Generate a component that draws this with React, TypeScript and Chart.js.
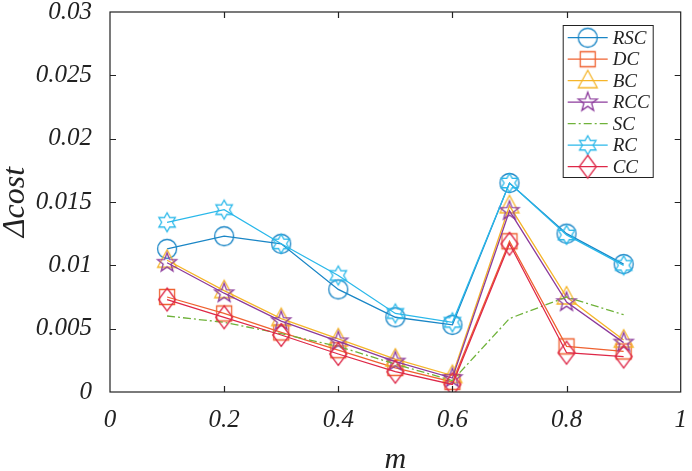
import React, { useEffect, useRef } from 'react';
import { Chart, registerables } from 'chart.js';

Chart.register(...registerables);

// ---- data ----
const mValues = [0.1, 0.2, 0.3, 0.4, 0.5, 0.6, 0.7, 0.8, 0.9];
const RSC = [0.0113, 0.0123, 0.0117, 0.0081, 0.0059, 0.0053, 0.0165, 0.0125, 0.0101];
const DC = [0.0075, 0.0062, 0.0047, 0.0033, 0.0019, 0.0008, 0.0119, 0.0036, 0.0032];
const BC = [0.0104, 0.008, 0.0058, 0.0042, 0.0026, 0.0013, 0.0147, 0.0075, 0.0041];
const RCC = [0.0102, 0.0078, 0.0056, 0.004, 0.0024, 0.0011, 0.0143, 0.0071, 0.0039];
const SC = [0.006, 0.0055, 0.0046, 0.0036, 0.0022, 0.0009, 0.0058, 0.0075, 0.0061];
const RC = [0.0134, 0.0144, 0.0117, 0.0092, 0.0062, 0.0055, 0.0165, 0.0124, 0.01];
const CC = [0.0073, 0.0059, 0.0045, 0.003, 0.0016, 0.0006, 0.0117, 0.0031, 0.0028];

const seriesNames = ['RSC', 'DC', 'BC', 'RCC', 'SC', 'RC', 'CC'];
const xTickLabels = ['0', '0.2', '0.4', '0.6', '0.8', '1'];
const yTickLabels = ['0', '0.005', '0.01', '0.015', '0.02', '0.025', '0.03'];
const xTitle = 'm';
const yTitle = '\u0394cost';

const FONT = '"Liberation Serif", "Times New Roman", serif';

function starPath(ctx: CanvasRenderingContext2D, n: number, ro: number, ri: number) {
  for (let i = 0; i < 2 * n; i++) {
    const a = -Math.PI / 2 + (i * Math.PI) / n;
    const r = i % 2 === 0 ? ro : ri;
    const px = Math.cos(a) * r;
    const py = Math.sin(a) * r;
    if (i === 0) ctx.moveTo(px, py);
    else ctx.lineTo(px, py);
  }
  ctx.closePath();
}

function makeMarker(shape: string, color: string): HTMLCanvasElement {
  const size = 30;
  const c = document.createElement('canvas');
  c.width = size;
  c.height = size;
  const ctx = c.getContext('2d') as CanvasRenderingContext2D;
  ctx.strokeStyle = color;
  ctx.lineWidth = 1.3;
  ctx.translate(size / 2, size / 2);
  ctx.beginPath();
  switch (shape) {
    case 'circle':
      ctx.arc(0, 0, 9.5, 0, Math.PI * 2);
      break;
    case 'square':
      ctx.rect(-7.5, -7.5, 15, 15);
      break;
    case 'triangle':
      ctx.moveTo(0, -10.5);
      ctx.lineTo(9.5, 7);
      ctx.lineTo(-9.5, 7);
      ctx.closePath();
      break;
    case 'pentagram':
      starPath(ctx, 5, 10, 4.1);
      break;
    case 'hexagram':
      starPath(ctx, 6, 9.5, 5.4);
      break;
    case 'diamond':
      ctx.moveTo(0, -11.5);
      ctx.lineTo(8.5, 0);
      ctx.lineTo(0, 11.5);
      ctx.lineTo(-8.5, 0);
      ctx.closePath();
      break;
  }
  ctx.stroke();
  return c;
}

const frameTicks = {
  id: 'frameTicks',
  afterDatasetsDraw(chart: any) {
    const { ctx, chartArea: ca, scales } = chart;
    ctx.save();
    ctx.strokeStyle = '#222';
    ctx.lineWidth = 1.2;
    ctx.strokeRect(ca.left, ca.top, ca.right - ca.left, ca.bottom - ca.top);
    const tl = 6;
    ctx.beginPath();
    scales.x.ticks.forEach((t: any) => {
      const px = Math.round(scales.x.getPixelForValue(t.value)) + 0.5;
      if (px <= ca.left + 1 || px >= ca.right - 1) return;
      ctx.moveTo(px, ca.bottom);
      ctx.lineTo(px, ca.bottom - tl);
      ctx.moveTo(px, ca.top);
      ctx.lineTo(px, ca.top + tl);
    });
    scales.y.ticks.forEach((t: any) => {
      const py = Math.round(scales.y.getPixelForValue(t.value)) + 0.5;
      if (py <= ca.top + 1 || py >= ca.bottom - 1) return;
      ctx.moveTo(ca.left, py);
      ctx.lineTo(ca.left + tl, py);
      ctx.moveTo(ca.right, py);
      ctx.lineTo(ca.right - tl, py);
    });
    ctx.stroke();
    ctx.restore();
  },
};

const boxLegend = {
  id: 'boxLegend',
  afterDraw(chart: any) {
    const { ctx, chartArea: ca } = chart;
    const ds = chart.data.datasets;
    const boxW = 90;
    const boxH = 152;
    const right = ca.right - 28;
    const left = right - boxW;
    const top = ca.top + 13;
    ctx.save();
    ctx.fillStyle = '#fff';
    ctx.fillRect(left, top, boxW, boxH);
    ctx.strokeStyle = '#222';
    ctx.lineWidth = 1;
    ctx.strokeRect(left + 0.5, top + 0.5, boxW, boxH);
    ds.forEach((d: any, i: number) => {
      const y = top + 12.7 + i * 21.5;
      ctx.save();
      ctx.strokeStyle = d.borderColor;
      ctx.lineWidth = d.borderWidth;
      ctx.setLineDash(d.borderDash || []);
      ctx.beginPath();
      ctx.moveTo(left + 5, y);
      ctx.lineTo(left + 45, y);
      ctx.stroke();
      ctx.restore();
      if (d.pointStyle && typeof d.pointStyle === 'object') {
        const img = d.pointStyle as HTMLCanvasElement;
        ctx.drawImage(img, left + 25 - img.width / 2, y - img.height / 2);
      }
      ctx.fillStyle = '#222';
      ctx.font = `italic 19px ${FONT}`;
      ctx.textAlign = 'left';
      ctx.textBaseline = 'middle';
      ctx.fillText(d.label, left + 50, y + 1);
    });
    ctx.restore();
  },
};

export default function App() {
  const ref = useRef<HTMLCanvasElement | null>(null);

  useEffect(() => {
    if (!ref.current) return;
    const colors = ['#1a86c6', '#ef6231', '#f5b52a', '#8c3b9c', '#6fb23a', '#2ab8ea', '#de2848'];
    const shapes = ['circle', 'square', 'triangle', 'pentagram', null, 'hexagram', 'diamond'];
    const values = [RSC, DC, BC, RCC, SC, RC, CC];
    const datasets = seriesNames.map((name, i) => {
      const shape = shapes[i];
      return {
        label: name,
        data: mValues.map((m, j) => ({ x: m, y: values[i][j] })),
        borderColor: colors[i],
        backgroundColor: colors[i],
        borderWidth: 1.3,
        borderDash: name === 'SC' ? [8, 3, 2, 3] : [],
        pointStyle: shape ? makeMarker(shape, colors[i]) : false,
        pointRadius: shape ? 10 : 0,
        pointHoverRadius: shape ? 10 : 0,
        tension: 0,
        fill: false,
        order: seriesNames.length - i,
      };
    });

    const chart = new Chart(ref.current, {
      type: 'line',
      data: { datasets: datasets as any },
      options: {
        responsive: false,
        animation: false,
        layout: { padding: { top: 12, right: 6, left: 0, bottom: 0 } },
        plugins: {
          legend: { display: false },
          tooltip: { enabled: false },
        },
        scales: {
          x: {
            type: 'linear',
            min: 0,
            max: 1,
            grid: { display: false },
            border: { display: false },
            ticks: {
              stepSize: 0.2,
              padding: 5,
              color: '#222',
              font: { family: FONT, size: 25, style: 'italic' },
              callback: (v: any, idx: number) => xTickLabels[idx] ?? String(v),
              maxRotation: 0,
            },
            title: {
              display: true,
              text: xTitle,
              color: '#222',
              font: { family: FONT, size: 30, style: 'italic', lineHeight: 0.7 },
              padding: 0,
            },
            afterFit: (s: any) => {
              s.height = 79;
              s.paddingLeft = 0;
              s.paddingRight = 0;
            },
          },
          y: {
            type: 'linear',
            min: 0,
            max: 0.03,
            grid: { display: false },
            border: { display: false },
            ticks: {
              stepSize: 0.005,
              padding: 10,
              color: '#222',
              font: { family: FONT, size: 25, style: 'italic' },
              callback: (v: any, idx: number) => yTickLabels[idx] ?? String(v),
            },
            title: {
              display: true,
              text: yTitle,
              color: '#222',
              font: { family: FONT, size: 32, style: 'italic', lineHeight: 1 },
              padding: 0,
            },
            afterFit: (s: any) => {
              s.width = 110;
              s.paddingTop = 0;
              s.paddingBottom = 0;
            },
          },
        },
      },
      plugins: [frameTicks, boxLegend],
    });
    return () => chart.destroy();
  }, []);

  return (
    <div style={{ position: 'absolute', left: 0, top: 0, width: 692, height: 471, background: '#fff' }}>
      <canvas ref={ref} width={692} height={471} style={{ width: 692, height: 471 }} />
    </div>
  );
}
